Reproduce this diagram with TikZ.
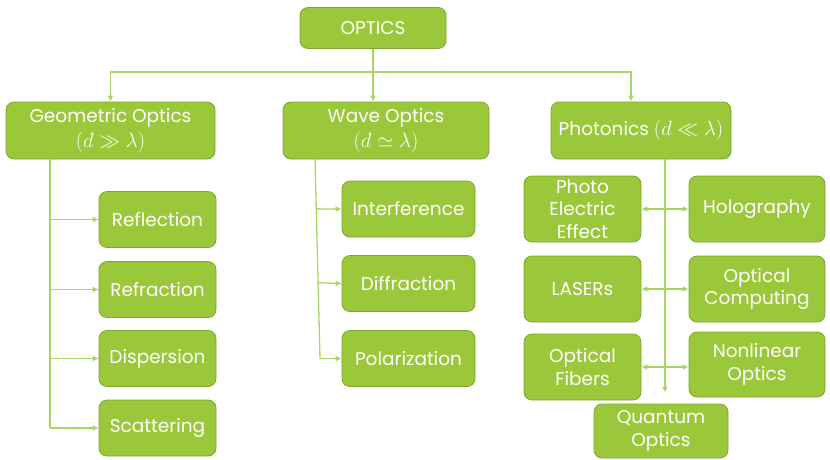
\documentclass[tikz,border=0pt]{standalone}
\usepackage{fontspec}
\setmainfont{Poppins}
\usetikzlibrary{arrows.meta, calc}
\definecolor{boxgreen}{RGB}{155,200,58}
\definecolor{edgegreen}{RGB}{126,166,46}
\definecolor{linegreen}{RGB}{170,212,100}
\newcommand{\bigmath}[1]{{\fontsize{21}{22.5}\selectfont$#1$}}

\begin{document}
\begin{tikzpicture}[x=1pt, y=-1pt, thick,
    main/.style = {draw=edgegreen, fill=boxgreen, rounded corners=8pt, text=white,
                   align=center, font=\fontsize{18.5}{22.5}\selectfont, inner sep=2pt},
    link/.style = {draw=linegreen, line width=1.3pt, -{Latex[length=6pt,width=6pt]}},
    both/.style = {link, {Latex[length=6pt,width=6pt]}-{Latex[length=6pt,width=6pt]}}]
    \useasboundingbox (0,0) rectangle (830,459);
    % top level
    \node[main, minimum width=146pt, minimum height=41pt] (1) at (373,28) {OPTICS};
    \node[main, minimum width=209pt, minimum height=57pt] (2) at (110.5,130.5) {Geometric Optics\\[2pt]\bigmath{(d \gg \lambda)}};
    \node[main, minimum width=206pt, minimum height=57pt] (3) at (386,130.5) {Wave Optics\\[2pt]\bigmath{(d \simeq \lambda)}};
    \node[main, minimum width=180pt, minimum height=57pt] (4) at (641,130.5) {Photonics \bigmath{(d \ll \lambda)}};
    % geometric optics
    \node[main, minimum width=117pt, minimum height=56pt] (5) at (157.5,219.5) {Reflection};
    \node[main, minimum width=117pt, minimum height=56pt] (6) at (157.5,289.5) {Refraction};
    \node[main, minimum width=117pt, minimum height=56pt] (7) at (157.5,358.5) {Dispersion};
    \node[main, minimum width=117pt, minimum height=56pt] (8) at (157.5,428) {Scattering};
    % wave optics
    \node[main, minimum width=133pt, minimum height=56pt] (9) at (408.5,209) {Interference};
    \node[main, minimum width=133pt, minimum height=56pt] (10) at (408.5,283.5) {Diffraction};
    \node[main, minimum width=133pt, minimum height=56pt] (11) at (408.5,358.5) {Polarization};
    % photonics
    \node[main, minimum width=117pt, minimum height=66pt, inner sep=0pt] (12) at (582.5,209) {Photo\\Electric\\Effect};
    \node[main, minimum width=136pt, minimum height=66pt] (13) at (757,209) {Holography};
    \node[main, minimum width=117pt, minimum height=66pt] (14) at (582.5,289) {LASERs};
    \node[main, minimum width=136pt, minimum height=66pt] (15) at (757,289) {Optical\\Computing};
    \node[main, minimum width=117pt, minimum height=66pt] (16) at (582.5,367) {Optical\\Fibers};
    \node[main, minimum width=136pt, minimum height=65pt] (17) at (757,364.5) {Nonlinear\\Optics};
    \node[main, minimum width=134pt, minimum height=54pt] (18) at (661,431) {Quantum\\Optics};
    % links
    \coordinate (t) at (373,72);
    \coordinate (g) at (50,159);
    \coordinate (w) at (315,159);
    \coordinate (w2) at (320,358.5);
    \coordinate (p) at (665,159);
    \draw[link, -] (1) -- (t);
    \draw[link] (t) -| (2.north);
    \draw[link] (t) -- (3.north -| t);
    \draw[link] (t) -| ([xshift=-10pt]4.north);
    \draw[link, -] (g) -- (g |- 8);
    \foreach \n in {5,6,7,8}
        \draw[link] (g |- \n) -- (\n.west);
    \draw[link, -] (w) -- (w2);
    \draw[link] ($(w)!0.25!(w2)$) -- (9.west);
    \draw[link] ($(w)!0.62!(w2)$) -- (10.west);
    \draw[link] (w2) -- (11.west);
    \draw[link, shorten >=11pt] (p) -- (p |- 18.north);
    \draw[both] (12.east) -- (13.west);
    \draw[both] (14.east) -- (15.west);
    \draw[both] (16.east) -- (16.east -| 17.west);
\end{tikzpicture}
\end{document}
